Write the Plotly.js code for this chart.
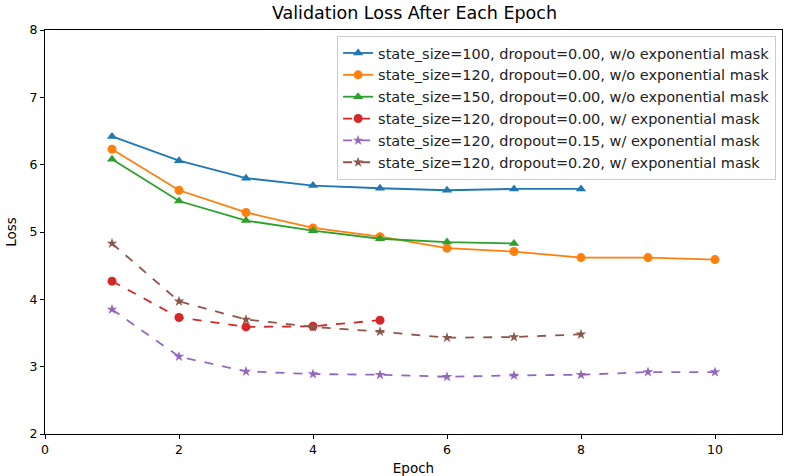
<!DOCTYPE html>
<html>
<head>
<meta charset="utf-8">
<script src="https://cdn.plot.ly/plotly-3.0.1.min.js"></script>
<style>html,body{margin:0;padding:0;background:#fff;}#chart{width:785px;height:476px;}</style>
</head>
<body>
<div id="chart"></div>
<script>
const seriesNames = [
  "state_size=100, dropout=0.00, w/o exponential mask",
  "state_size=120, dropout=0.00, w/o exponential mask",
  "state_size=150, dropout=0.00, w/o exponential mask",
  "state_size=120, dropout=0.00, w/ exponential mask",
  "state_size=120, dropout=0.15, w/ exponential mask",
  "state_size=120, dropout=0.20, w/ exponential mask"
];
const epochs10 = [1,2,3,4,5,6,7,8,9,10];
const loss100 = [6.42, 6.06, 5.80, 5.69, 5.65, 5.62, 5.64, 5.64];
const loss120 = [6.23, 5.62, 5.29, 5.06, 4.93, 4.76, 4.71, 4.62, 4.62, 4.59];
const loss150 = [6.08, 5.46, 5.17, 5.02, 4.90, 4.85, 4.83];
const loss120Exp = [4.27, 3.73, 3.59, 3.60, 3.69];
const loss120Drop15 = [3.85, 3.15, 2.93, 2.89, 2.88, 2.85, 2.87, 2.88, 2.92, 2.92];
const loss120Drop20 = [4.83, 3.97, 3.70, 3.59, 3.52, 3.43, 3.44, 3.48];
const xTicks = [0,2,4,6,8,10];
const yTicks = [2,3,4,5,6,7,8];

const allLoss = [loss100, loss120, loss150, loss120Exp, loss120Drop15, loss120Drop20];
const colors = ["#1f77b4","#ff7f0e","#2ca02c","#d62728","#9467bd","#8c564b"];
const symbols = ["triangle-up","circle","triangle-up","circle","star","star"];
const dashes = ["solid","solid","solid","dash","dash","dash"];
const msizes = [9,9,9,9,8,8];

const traces = allLoss.map((ys, i) => ({
  x: epochs10.slice(0, ys.length),
  y: ys,
  name: seriesNames[i],
  type: "scatter",
  mode: "lines+markers",
  line: {color: colors[i], width: 1.8, dash: dashes[i]},
  marker: {color: colors[i], symbol: symbols[i], size: msizes[i]}
}));

const font = "DejaVu Sans, sans-serif";
const layout = {
  width: 785, height: 476,
  margin: {l: 45, r: 3, t: 30, b: 42},
  paper_bgcolor: "#fff", plot_bgcolor: "#fff",
  font: {family: font, color: "#000", size: 12},
  title: {text: "Validation Loss After Each Epoch", font: {family: font, size: 17.5, color: "#000"}, x: 0.528, xanchor: "center", y: 0.972, yanchor: "middle"},
  showlegend: true,
  legend: {x: 0.992, xanchor: "right", y: 0.985, yanchor: "top", bgcolor: "rgba(255,255,255,0.8)", bordercolor: "#cccccc", borderwidth: 1, font: {family: font, size: 14.5, color: "#222"}, tracegroupgap: 0, itemwidth: 30},
  xaxis: {
    range: [0, 11], tickvals: xTicks, ticktext: xTicks.map(String),
    showgrid: false, zeroline: false, showline: true, mirror: true, linecolor: "#000", linewidth: 1,
    ticks: "outside", ticklen: 4, tickcolor: "#000", tickfont: {family: font, size: 12.5, color: "#000"},
    title: {text: "Epoch", font: {family: font, size: 13.5, color: "#000"}, standoff: 7}
  },
  yaxis: {
    range: [2, 8], tickvals: yTicks, ticktext: yTicks.map(String),
    showgrid: false, zeroline: false, showline: true, mirror: true, linecolor: "#000", linewidth: 1,
    ticks: "outside", ticklen: 4, tickcolor: "#000", tickfont: {family: font, size: 12.5, color: "#000"},
    title: {text: "Loss", font: {family: font, size: 13.5, color: "#000"}, standoff: 9}
  }
};
Plotly.newPlot("chart", traces, layout, {displayModeBar: false, staticPlot: true});
</script>
</body>
</html>
